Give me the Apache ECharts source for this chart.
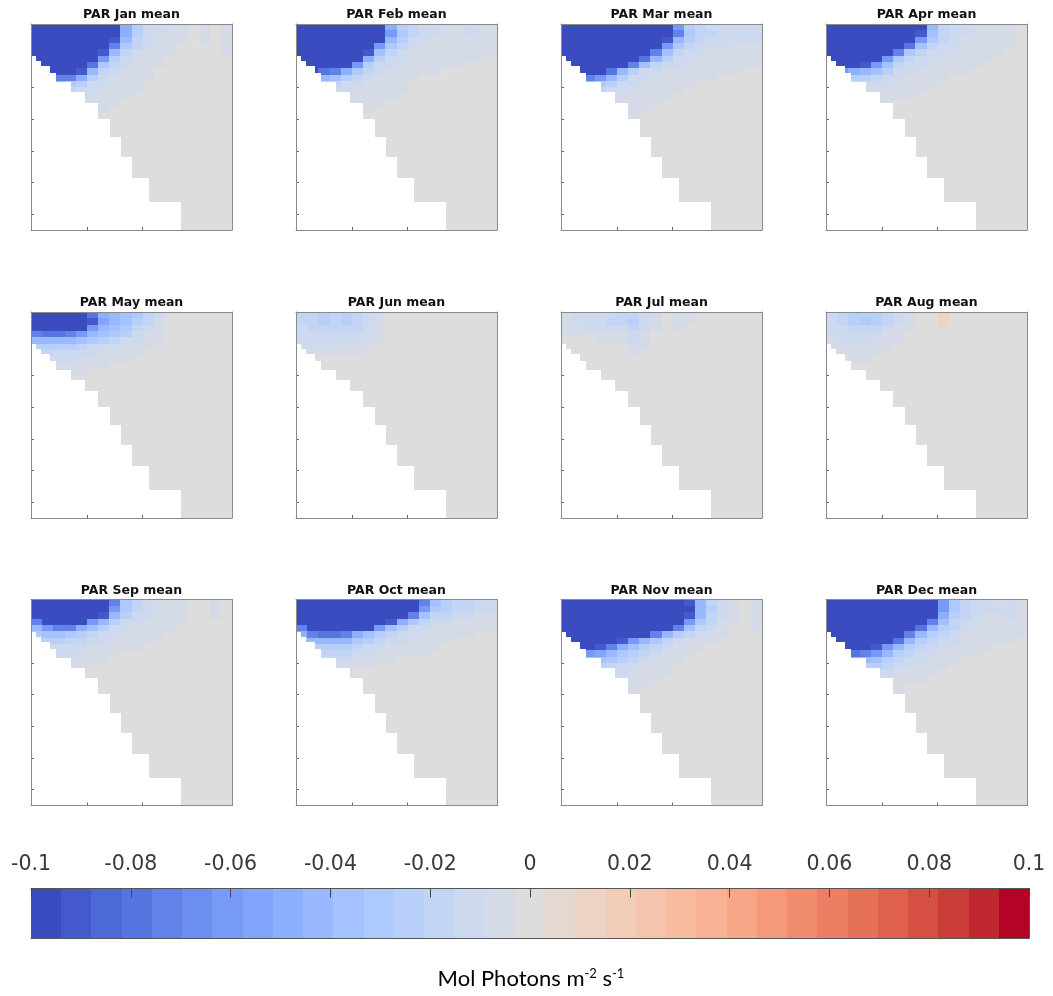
<!DOCTYPE html>
<html><head><meta charset="utf-8">
<script src="https://cdn.jsdelivr.net/npm/echarts@6/dist/echarts.min.js"></script>
<style>html,body{margin:0;padding:0;background:#fff}#chart{width:1053px;height:996px}</style>
</head><body><div id="chart"></div>
<script>
// ---------------- data ----------------
const months = ['Jan','Feb','Mar','Apr','May','Jun','Jul','Aug','Sep','Oct','Nov','Dec'];
// section grid: distance (km) column edges and depth (m) row edges
const distEdges = [0,2,4,6,8,10,12,14,16,18,20,22,24,26,28,30,32,34,36];
const depthEdges = [0,10,20,30,40,50,60,70,80,90,100,110,120,130,140,150,160,325];
// bathymetry (sea floor depth, m) along the section
const bathyEdges = [0,0.9,1.83,3.33,4.55,7.09,9.69,11.93,14.06,16.05,18.05,21.08,26.78,36];
const bathyDepth = [51,59,67,78,92,108,124.5,149.5,178.5,210,243,281,325];

const parJan = [
[-.12,-.12,-.12,-.12,-.12,-.12,-.12,-.12,-.05,-.025,-.015,-.01,-.007,-.004,0,-.004,0,-.004],
[-.12,-.12,-.12,-.12,-.12,-.12,-.12,-.12,-.05,-.025,-.015,-.01,-.007,-.004,0,-.004,0,-.004],
[-.12,-.12,-.12,-.12,-.12,-.12,-.12,-.09,-.04,-.02,-.012,-.008,-.006,-.004,0,-.004,0,-.004],
[-.12,-.12,-.12,-.12,-.12,-.12,-.12,-.07,-.03,-.018,-.01,-.007,-.005,0,0,0,0,-.004],
[-.12,-.12,-.12,-.12,-.12,-.12,-.09,-.04,-.02,-.012,-.008,-.006,-.004,0,0,0,0,-.004],
[-.12,-.12,-.12,-.12,-.12,-.12,-.06,-.025,-.014,-.009,-.007,-.005,0,0,0,0,0,0],
[-.12,-.12,-.12,-.12,-.12,-.08,-.03,-.016,-.01,-.007,-.005,-.004,0,0,0,0,0,0],
[-.12,-.12,-.12,-.12,-.09,-.04,-.02,-.012,-.008,-.006,-.004,0,0,0,0,0,0,0],
[-.1,-.1,-.07,-.07,-.05,-.025,-.014,-.009,-.007,-.005,-.004,0,0,0,0,0,0,0],
[-.05,-.05,-.04,-.03,-.025,-.015,-.01,-.007,-.005,-.004,0,0,0,0,0,0,0,0],
[-.02,-.02,-.02,-.018,-.015,-.01,-.008,-.006,-.005,-.004,0,0,0,0,0,0,0,0],
[-.01,-.01,-.01,-.01,-.01,-.008,-.006,-.005,-.004,0,0,0,0,0,0,0,0,0],
[-.006,-.006,-.006,-.006,-.006,-.006,-.005,-.004,0,0,0,0,0,0,0,0,0,0],
[-.004,-.004,-.004,-.004,-.004,-.004,-.004,0,0,0,0,0,0,0,0,0,0,0],
[0,0,0,0,0,0,0,0,0,0,0,0,0,0,0,0,0,0],
[0,0,0,0,0,0,0,0,0,0,0,0,0,0,0,0,0,0],
[0,0,0,0,0,0,0,0,0,0,0,0,0,0,0,0,0,0]];

const parFeb = [
[-.12,-.12,-.12,-.12,-.12,-.12,-.12,-.12,-.05,-.025,-.016,-.012,-.01,-.009,-.008,-.01,-.009,-.007],
[-.12,-.12,-.12,-.12,-.12,-.12,-.12,-.12,-.06,-.03,-.017,-.012,-.01,-.009,-.008,-.01,-.009,-.007],
[-.12,-.12,-.12,-.12,-.12,-.12,-.12,-.1,-.04,-.022,-.014,-.011,-.009,-.008,-.007,-.008,-.007,-.006],
[-.12,-.12,-.12,-.12,-.12,-.12,-.12,-.06,-.03,-.018,-.012,-.009,-.008,-.007,-.006,-.006,-.006,-.005],
[-.12,-.12,-.12,-.12,-.12,-.12,-.09,-.035,-.02,-.013,-.009,-.007,-.006,-.006,-.005,-.005,-.005,-.004],
[-.12,-.12,-.12,-.12,-.12,-.1,-.05,-.022,-.014,-.01,-.008,-.006,-.005,-.005,-.004,-.004,-.004,0],
[-.12,-.12,-.12,-.12,-.12,-.06,-.025,-.015,-.01,-.008,-.006,-.005,-.005,-.004,-.004,0,0,0],
[-.12,-.12,-.08,-.07,-.05,-.03,-.016,-.01,-.008,-.006,-.005,-.004,-.004,0,0,0,0,0],
[-.05,-.05,-.04,-.035,-.025,-.016,-.01,-.007,-.006,-.005,-.004,0,0,0,0,0,0,0],
[-.02,-.02,-.02,-.02,-.015,-.01,-.007,-.006,-.005,-.004,0,0,0,0,0,0,0,0],
[-.012,-.012,-.012,-.012,-.01,-.008,-.006,-.005,-.004,-.004,0,0,0,0,0,0,0,0],
[-.007,-.007,-.007,-.007,-.007,-.006,-.005,-.004,-.004,0,0,0,0,0,0,0,0,0],
[-.005,-.005,-.005,-.005,-.005,-.005,-.004,-.004,0,0,0,0,0,0,0,0,0,0],
[0,0,0,0,0,-.004,-.004,0,0,0,0,0,0,0,0,0,0,0],
[0,0,0,0,0,0,0,0,0,0,0,0,0,0,0,0,0,0],
[0,0,0,0,0,0,0,0,0,0,0,0,0,0,0,0,0,0],
[0,0,0,0,0,0,0,0,0,0,0,0,0,0,0,0,0,0]];

const parMar = [
[-.12,-.12,-.12,-.12,-.12,-.12,-.12,-.12,-.12,-.12,-.06,-.025,-.018,-.015,-.013,-.013,-.013,-.012],
[-.12,-.12,-.12,-.12,-.12,-.12,-.12,-.12,-.12,-.12,-.07,-.03,-.02,-.016,-.014,-.014,-.014,-.013],
[-.12,-.12,-.12,-.12,-.12,-.12,-.12,-.12,-.12,-.09,-.04,-.022,-.016,-.014,-.012,-.012,-.012,-.011],
[-.12,-.12,-.12,-.12,-.12,-.12,-.12,-.12,-.12,-.06,-.03,-.018,-.013,-.011,-.01,-.009,-.009,-.009],
[-.12,-.12,-.12,-.12,-.12,-.12,-.12,-.12,-.07,-.035,-.02,-.014,-.01,-.009,-.008,-.007,-.007,-.007],
[-.12,-.12,-.12,-.12,-.12,-.12,-.12,-.08,-.04,-.022,-.015,-.011,-.008,-.007,-.006,-.006,-.006,-.006],
[-.12,-.12,-.12,-.12,-.12,-.12,-.07,-.035,-.02,-.014,-.01,-.008,-.007,-.006,-.005,-.005,-.005,-.004],
[-.12,-.12,-.12,-.12,-.08,-.04,-.025,-.015,-.011,-.009,-.007,-.006,-.005,-.005,-.004,-.004,0,0],
[-.1,-.1,-.07,-.06,-.04,-.025,-.015,-.011,-.009,-.007,-.006,-.005,-.004,-.004,0,0,0,0],
[-.04,-.04,-.035,-.03,-.022,-.015,-.011,-.008,-.007,-.005,-.005,-.004,0,0,0,0,0,0],
[-.02,-.02,-.02,-.018,-.014,-.01,-.008,-.006,-.005,-.004,-.004,0,0,0,0,0,0,0],
[-.01,-.01,-.01,-.01,-.009,-.008,-.006,-.005,-.004,-.004,0,0,0,0,0,0,0,0],
[-.006,-.006,-.006,-.006,-.006,-.006,-.005,-.004,-.004,0,0,0,0,0,0,0,0,0],
[-.004,-.004,-.004,-.004,-.004,-.004,-.004,-.004,0,0,0,0,0,0,0,0,0,0],
[0,0,0,0,0,-.004,-.004,0,0,0,0,0,0,0,0,0,0,0],
[0,0,0,0,0,0,0,0,0,0,0,0,0,0,0,0,0,0],
[0,0,0,0,0,0,0,0,0,0,0,0,0,0,0,0,0,0]];

const parApr = [
[-.12,-.12,-.12,-.12,-.12,-.12,-.12,-.12,-.1,-.04,-.02,-.014,-.011,-.009,-.008,-.007,-.005,-.003],
[-.12,-.12,-.12,-.12,-.12,-.12,-.12,-.12,-.09,-.035,-.018,-.013,-.01,-.008,-.007,-.006,-.005,-.003],
[-.12,-.12,-.12,-.12,-.12,-.12,-.12,-.12,-.06,-.028,-.016,-.011,-.009,-.007,-.006,-.005,-.004,0],
[-.12,-.12,-.12,-.12,-.12,-.12,-.12,-.08,-.035,-.02,-.013,-.01,-.008,-.006,-.005,-.004,-.004,0],
[-.12,-.12,-.12,-.12,-.12,-.12,-.07,-.03,-.02,-.014,-.01,-.008,-.006,-.005,-.004,-.004,0,0],
[-.12,-.12,-.12,-.12,-.12,-.06,-.03,-.018,-.013,-.01,-.008,-.006,-.005,-.004,-.004,0,0,0],
[-.12,-.12,-.12,-.09,-.06,-.035,-.02,-.013,-.01,-.008,-.006,-.005,-.004,-.004,0,0,0,0],
[-.06,-.06,-.05,-.045,-.035,-.022,-.014,-.01,-.008,-.006,-.005,-.004,-.004,0,0,0,0,0],
[-.025,-.025,-.025,-.025,-.02,-.014,-.01,-.008,-.006,-.005,-.004,0,0,0,0,0,0,0],
[-.014,-.014,-.014,-.014,-.012,-.01,-.007,-.006,-.005,-.004,0,0,0,0,0,0,0,0],
[-.009,-.009,-.009,-.009,-.008,-.007,-.005,-.004,-.004,0,0,0,0,0,0,0,0,0],
[-.005,-.005,-.005,-.005,-.005,-.005,-.004,-.004,0,0,0,0,0,0,0,0,0,0],
[0,0,0,0,-.004,-.004,0,0,0,0,0,0,0,0,0,0,0,0],
[0,0,0,0,0,0,0,0,0,0,0,0,0,0,0,0,0,0],
[0,0,0,0,0,0,0,0,0,0,0,0,0,0,0,0,0,0],
[0,0,0,0,0,0,0,0,0,0,0,0,0,0,0,0,0,0],
[0,0,0,0,0,0,0,0,0,0,0,0,0,0,0,0,0,0]];

const parMay = [
[-.12,-.12,-.12,-.12,-.12,-.08,-.05,-.04,-.035,-.028,-.018,-.01,0,0,0,0,0,0],
[-.12,-.12,-.12,-.12,-.12,-.09,-.055,-.04,-.035,-.025,-.016,-.008,0,0,0,0,0,0],
[-.12,-.12,-.12,-.12,-.1,-.06,-.045,-.035,-.028,-.02,-.012,-.006,0,0,0,0,0,0],
[-.07,-.08,-.08,-.07,-.06,-.045,-.035,-.028,-.022,-.015,-.009,-.005,0,0,0,0,0,0],
[-.045,-.045,-.045,-.04,-.035,-.028,-.022,-.018,-.014,-.01,-.006,-.004,0,0,0,0,0,0],
[-.025,-.025,-.025,-.022,-.018,-.015,-.012,-.01,-.008,-.006,-.004,0,0,0,0,0,0,0],
[-.015,-.016,-.015,-.014,-.012,-.01,-.008,-.007,-.005,-.004,0,0,0,0,0,0,0,0],
[-.011,-.011,-.011,-.01,-.009,-.007,-.006,-.005,-.004,0,0,0,0,0,0,0,0,0],
[-.008,-.008,-.008,-.008,-.007,-.005,-.004,0,0,0,0,0,0,0,0,0,0,0],
[-.005,-.005,-.005,-.005,-.004,-.003,0,0,0,0,0,0,0,0,0,0,0,0],
[0,0,0,0,0,0,0,0,0,0,0,0,0,0,0,0,0,0],
[0,0,0,0,0,0,0,0,0,0,0,0,0,0,0,0,0,0],
[0,0,0,0,0,0,0,0,0,0,0,0,0,0,0,0,0,0],
[0,0,0,0,0,0,0,0,0,0,0,0,0,0,0,0,0,0],
[0,0,0,0,0,0,0,0,0,0,0,0,0,0,0,0,0,0],
[0,0,0,0,0,0,0,0,0,0,0,0,0,0,0,0,0,0],
[0,0,0,0,0,0,0,0,0,0,0,0,0,0,0,0,0,0]];

const parJun = [
[-.016,-.018,-.022,-.018,-.022,-.018,-.013,-.008,0,0,0,0,0,0,0,0,0,0],
[-.016,-.02,-.024,-.02,-.024,-.019,-.013,-.008,0,0,0,0,0,0,0,0,0,0],
[-.015,-.018,-.02,-.018,-.02,-.016,-.011,-.006,0,0,0,0,0,0,0,0,0,0],
[-.013,-.015,-.015,-.014,-.014,-.013,-.01,-.005,0,0,0,0,0,0,0,0,0,0],
[-.011,-.012,-.012,-.011,-.011,-.01,-.008,-.004,0,0,0,0,0,0,0,0,0,0],
[-.009,-.01,-.01,-.009,-.009,-.008,-.005,0,0,0,0,0,0,0,0,0,0,0],
[-.008,-.008,-.007,-.006,-.005,-.004,0,0,0,0,0,0,0,0,0,0,0,0],
[0,0,0,0,0,0,0,0,0,0,0,0,0,0,0,0,0,0],
[0,0,0,0,0,0,0,0,0,0,0,0,0,0,0,0,0,0],
[0,0,0,0,0,0,0,0,0,0,0,0,0,0,0,0,0,0],
[0,0,0,0,0,0,0,0,0,0,0,0,0,0,0,0,0,0],
[0,0,0,0,0,0,0,0,0,0,0,0,0,0,0,0,0,0],
[0,0,0,0,0,0,0,0,0,0,0,0,0,0,0,0,0,0],
[0,0,0,0,0,0,0,0,0,0,0,0,0,0,0,0,0,0],
[0,0,0,0,0,0,0,0,0,0,0,0,0,0,0,0,0,0],
[0,0,0,0,0,0,0,0,0,0,0,0,0,0,0,0,0,0],
[0,0,0,0,0,0,0,0,0,0,0,0,0,0,0,0,0,0]];

const parJul = [
[-.008,-.01,-.012,-.014,-.015,-.016,-.02,-.014,-.007,0,-.005,-.004,0,0,0,0,0,0],
[-.008,-.01,-.013,-.015,-.016,-.017,-.022,-.015,-.007,0,-.005,-.004,0,0,0,0,0,0],
[-.007,-.008,-.01,-.011,-.012,-.013,-.016,-.01,-.004,0,-.004,0,0,0,0,0,0,0],
[-.004,-.005,-.006,-.007,-.008,-.009,-.012,-.007,0,0,0,0,0,0,0,0,0,0],
[0,0,0,-.004,-.004,-.005,-.01,-.005,0,0,0,0,0,0,0,0,0,0],
[0,0,0,0,0,0,-.006,-.004,0,0,0,0,0,0,0,0,0,0],
[0,0,0,0,0,0,-.004,0,0,0,0,0,0,0,0,0,0,0],
[0,0,0,0,0,0,0,0,0,0,0,0,0,0,0,0,0,0],
[0,0,0,0,0,0,0,0,0,0,0,0,0,0,0,0,0,0],
[0,0,0,0,0,0,0,0,0,0,0,0,0,0,0,0,0,0],
[0,0,0,0,0,0,0,0,0,0,0,0,0,0,0,0,0,0],
[0,0,0,0,0,0,0,0,0,0,0,0,0,0,0,0,0,0],
[0,0,0,0,0,0,0,0,0,0,0,0,0,0,0,0,0,0],
[0,0,0,0,0,0,0,0,0,0,0,0,0,0,0,0,0,0],
[0,0,0,0,0,0,0,0,0,0,0,0,0,0,0,0,0,0],
[0,0,0,0,0,0,0,0,0,0,0,0,0,0,0,0,0,0],
[0,0,0,0,0,0,0,0,0,0,0,0,0,0,0,0,0,0]];

const parAug = [
[-.012,-.016,-.022,-.026,-.022,-.016,-.01,-.006,0,0,.01,0,0,0,0,0,0,0],
[-.013,-.018,-.025,-.03,-.025,-.017,-.01,-.006,0,0,.01,0,0,0,0,0,0,0],
[-.012,-.015,-.018,-.02,-.018,-.013,-.008,-.004,0,0,.006,0,0,0,0,0,0,0],
[-.01,-.012,-.013,-.014,-.012,-.009,-.006,0,0,0,0,0,0,0,0,0,0,0],
[-.009,-.01,-.011,-.011,-.009,-.007,-.004,0,0,0,0,0,0,0,0,0,0,0],
[-.008,-.009,-.009,-.008,-.007,-.005,0,0,0,0,0,0,0,0,0,0,0,0],
[-.006,-.006,-.006,-.006,-.004,0,0,0,0,0,0,0,0,0,0,0,0,0],
[0,0,-.004,-.004,0,0,0,0,0,0,0,0,0,0,0,0,0,0],
[0,0,0,0,0,0,0,0,0,0,0,0,0,0,0,0,0,0],
[0,0,0,0,0,0,0,0,0,0,0,0,0,0,0,0,0,0],
[0,0,0,0,0,0,0,0,0,0,0,0,0,0,0,0,0,0],
[0,0,0,0,0,0,0,0,0,0,0,0,0,0,0,0,0,0],
[0,0,0,0,0,0,0,0,0,0,0,0,0,0,0,0,0,0],
[0,0,0,0,0,0,0,0,0,0,0,0,0,0,0,0,0,0],
[0,0,0,0,0,0,0,0,0,0,0,0,0,0,0,0,0,0],
[0,0,0,0,0,0,0,0,0,0,0,0,0,0,0,0,0,0],
[0,0,0,0,0,0,0,0,0,0,0,0,0,0,0,0,0,0]];

const parSep = [
[-.12,-.12,-.12,-.12,-.12,-.12,-.12,-.07,-.03,-.018,-.012,-.009,-.007,-.005,0,0,-.005,0],
[-.12,-.12,-.12,-.12,-.12,-.12,-.12,-.06,-.028,-.016,-.011,-.008,-.006,-.004,0,0,-.005,0],
[-.12,-.12,-.12,-.12,-.12,-.12,-.09,-.04,-.022,-.014,-.01,-.007,-.005,-.004,0,0,-.004,0],
[-.07,-.12,-.12,-.12,-.12,-.06,-.04,-.022,-.015,-.011,-.008,-.006,-.005,-.004,0,0,0,0],
[-.045,-.06,-.07,-.07,-.05,-.035,-.022,-.015,-.011,-.009,-.007,-.005,-.004,0,0,0,0,0],
[-.03,-.035,-.035,-.032,-.027,-.02,-.015,-.011,-.008,-.007,-.005,-.004,0,0,0,0,0,0],
[-.022,-.022,-.022,-.02,-.017,-.013,-.01,-.008,-.006,-.005,-.004,0,0,0,0,0,0,0],
[-.015,-.015,-.015,-.014,-.012,-.009,-.007,-.006,-.005,-.004,0,0,0,0,0,0,0,0],
[-.01,-.01,-.01,-.01,-.008,-.007,-.005,-.004,0,0,0,0,0,0,0,0,0,0],
[-.007,-.007,-.007,-.007,-.006,-.005,-.004,0,0,0,0,0,0,0,0,0,0,0],
[0,0,0,-.004,-.004,0,0,0,0,0,0,0,0,0,0,0,0,0],
[0,0,0,0,0,0,0,0,0,0,0,0,0,0,0,0,0,0],
[0,0,0,0,0,0,0,0,0,0,0,0,0,0,0,0,0,0],
[0,0,0,0,0,0,0,0,0,0,0,0,0,0,0,0,0,0],
[0,0,0,0,0,0,0,0,0,0,0,0,0,0,0,0,0,0],
[0,0,0,0,0,0,0,0,0,0,0,0,0,0,0,0,0,0],
[0,0,0,0,0,0,0,0,0,0,0,0,0,0,0,0,0,0]];

const parOct = [
[-.12,-.12,-.12,-.12,-.12,-.12,-.12,-.12,-.12,-.12,-.12,-.07,-.035,-.025,-.02,-.018,-.015,-.011],
[-.12,-.12,-.12,-.12,-.12,-.12,-.12,-.12,-.12,-.12,-.1,-.06,-.03,-.022,-.018,-.016,-.013,-.01],
[-.12,-.12,-.12,-.12,-.12,-.12,-.12,-.12,-.12,-.12,-.07,-.035,-.02,-.016,-.013,-.011,-.009,-.008],
[-.12,-.12,-.12,-.12,-.12,-.12,-.12,-.12,-.09,-.05,-.03,-.02,-.014,-.011,-.009,-.008,-.007,-.006],
[-.07,-.12,-.12,-.12,-.12,-.12,-.1,-.06,-.035,-.022,-.015,-.011,-.009,-.007,-.006,-.005,-.005,-.004],
[-.05,-.07,-.08,-.08,-.07,-.05,-.035,-.025,-.018,-.013,-.01,-.008,-.006,-.005,-.004,-.004,0,0],
[-.035,-.04,-.045,-.045,-.04,-.03,-.022,-.016,-.012,-.01,-.008,-.006,-.005,-.004,0,0,0,0],
[-.025,-.025,-.027,-.027,-.024,-.019,-.015,-.012,-.009,-.007,-.006,-.005,-.004,0,0,0,0,0],
[-.018,-.018,-.018,-.018,-.016,-.013,-.01,-.008,-.007,-.006,-.005,-.004,0,0,0,0,0,0],
[-.012,-.012,-.012,-.012,-.01,-.008,-.006,-.005,-.004,0,0,0,0,0,0,0,0,0],
[-.008,-.008,-.008,-.008,-.007,-.006,-.004,0,0,0,0,0,0,0,0,0,0,0],
[0,0,0,0,-.004,0,0,0,0,0,0,0,0,0,0,0,0,0],
[0,0,0,0,0,0,0,0,0,0,0,0,0,0,0,0,0,0],
[0,0,0,0,0,0,0,0,0,0,0,0,0,0,0,0,0,0],
[0,0,0,0,0,0,0,0,0,0,0,0,0,0,0,0,0,0],
[0,0,0,0,0,0,0,0,0,0,0,0,0,0,0,0,0,0],
[0,0,0,0,0,0,0,0,0,0,0,0,0,0,0,0,0,0]];

const parNov = [
[-.12,-.12,-.12,-.12,-.12,-.12,-.12,-.12,-.12,-.12,-.12,-.09,-.04,-.02,-.012,-.006,0,-.005],
[-.12,-.12,-.12,-.12,-.12,-.12,-.12,-.12,-.12,-.12,-.12,-.1,-.045,-.022,-.012,-.006,0,-.005],
[-.12,-.12,-.12,-.12,-.12,-.12,-.12,-.12,-.12,-.12,-.12,-.09,-.04,-.02,-.011,-.005,0,-.005],
[-.12,-.12,-.12,-.12,-.12,-.12,-.12,-.12,-.12,-.12,-.12,-.06,-.03,-.016,-.009,-.004,0,-.004],
[-.12,-.12,-.12,-.12,-.12,-.12,-.12,-.12,-.12,-.1,-.07,-.035,-.02,-.012,-.006,0,0,-.004],
[-.12,-.12,-.12,-.12,-.12,-.12,-.12,-.1,-.07,-.04,-.025,-.016,-.011,-.008,-.004,0,0,0],
[-.12,-.12,-.12,-.12,-.12,-.09,-.06,-.04,-.028,-.018,-.013,-.009,-.006,-.004,0,0,0,0],
[-.12,-.12,-.1,-.09,-.07,-.05,-.035,-.025,-.018,-.013,-.009,-.006,-.004,0,0,0,0,0],
[-.07,-.07,-.06,-.055,-.045,-.032,-.024,-.017,-.012,-.009,-.006,-.004,0,0,0,0,0,0],
[-.035,-.035,-.035,-.035,-.03,-.022,-.016,-.012,-.009,-.006,-.004,0,0,0,0,0,0,0],
[-.018,-.018,-.018,-.018,-.018,-.014,-.011,-.008,-.006,-.004,0,0,0,0,0,0,0,0],
[-.012,-.012,-.012,-.012,-.012,-.01,-.008,-.006,-.004,-.004,0,0,0,0,0,0,0,0],
[-.008,-.008,-.008,-.008,-.008,-.007,-.006,-.005,-.004,0,0,0,0,0,0,0,0,0],
[0,0,0,0,0,-.005,-.004,-.004,0,0,0,0,0,0,0,0,0,0],
[0,0,0,0,0,-.004,-.004,0,0,0,0,0,0,0,0,0,0,0],
[0,0,0,0,0,0,0,0,0,0,0,0,0,0,0,0,0,0],
[0,0,0,0,0,0,0,0,0,0,0,0,0,0,0,0,0,0]];

const parDec = [
[-.12,-.12,-.12,-.12,-.12,-.12,-.12,-.12,-.12,-.1,-.06,-.03,-.018,-.013,-.01,-.009,-.01,-.008],
[-.12,-.12,-.12,-.12,-.12,-.12,-.12,-.12,-.12,-.1,-.06,-.03,-.018,-.013,-.01,-.01,-.012,-.009],
[-.12,-.12,-.12,-.12,-.12,-.12,-.12,-.12,-.12,-.1,-.05,-.026,-.016,-.012,-.009,-.009,-.01,-.008],
[-.12,-.12,-.12,-.12,-.12,-.12,-.12,-.12,-.12,-.07,-.035,-.02,-.013,-.01,-.008,-.007,-.007,-.007],
[-.12,-.12,-.12,-.12,-.12,-.12,-.12,-.12,-.08,-.045,-.025,-.016,-.011,-.008,-.007,-.006,-.006,-.006],
[-.12,-.12,-.12,-.12,-.12,-.12,-.12,-.07,-.04,-.025,-.017,-.012,-.009,-.007,-.006,-.005,-.005,-.005],
[-.12,-.12,-.12,-.12,-.12,-.12,-.08,-.045,-.027,-.018,-.013,-.01,-.008,-.006,-.005,-.004,-.004,0],
[-.12,-.12,-.12,-.12,-.09,-.06,-.04,-.026,-.018,-.013,-.01,-.008,-.006,-.005,-.004,0,0,0],
[-.08,-.08,-.08,-.075,-.06,-.04,-.027,-.019,-.013,-.01,-.008,-.006,-.005,-.004,0,0,0,0],
[-.045,-.045,-.045,-.045,-.035,-.026,-.019,-.014,-.01,-.008,-.006,-.004,0,0,0,0,0,0],
[-.022,-.022,-.022,-.022,-.022,-.017,-.013,-.01,-.008,-.006,-.004,0,0,0,0,0,0,0],
[-.014,-.014,-.014,-.014,-.014,-.012,-.009,-.007,-.006,-.004,0,0,0,0,0,0,0,0],
[-.009,-.009,-.009,-.009,-.009,-.008,-.007,-.005,-.004,0,0,0,0,0,0,0,0,0],
[0,0,0,0,0,-.005,-.005,0,0,0,0,0,0,0,0,0,0,0],
[0,0,0,0,0,-.004,-.004,0,0,0,0,0,0,0,0,0,0,0],
[0,0,0,0,0,0,0,0,0,0,0,0,0,0,0,0,0,0],
[0,0,0,0,0,0,0,0,0,0,0,0,0,0,0,0,0,0]];

const monthFields = [parJan,parFeb,parMar,parApr,parMay,parJun,parJul,parAug,parSep,parOct,parNov,parDec];

// colour scale
const cbarMin = -0.1, cbarMax = 0.1;
const cmapColors = ['#3b4cc0','#445acc','#4d68d7','#5775e1','#6282ea','#6c8ef1','#779af7','#82a5fb','#8db0fe','#98b9ff','#a3c2ff','#aec9fd','#b8d0f9','#c2d5f4','#ccd9ee','#d5dbe6','#dddddd','#e5d8d1','#ecd3c5','#f1ccb9','#f5c4ad','#f7bba0','#f7b194','#f7a687','#f49a7b','#f18d6f','#ec7f63','#e57058','#de604d','#d55042','#cb3e38','#c0282f','#b40426'];

// ---------------- layout ----------------
const panelLeft = [31, 296, 561, 826];
const panelTop = [24, 312, 599.5];
const panelW = 201, panelH = 206;
const boxColor = '#8a8a8a';

function colorFor(v) {
  const n = cmapColors.length;
  let k = Math.floor((v - cbarMin) / (cbarMax - cbarMin) * n + 1e-9);
  if (k < 0) k = 0; if (k > n - 1) k = n - 1;
  return cmapColors[k];
}

function cellsFor(field) {
  const out = [];
  for (let i = 0; i < depthEdges.length - 1; i++)
    for (let j = 0; j < distEdges.length - 1; j++)
      out.push([distEdges[j], distEdges[j + 1], depthEdges[i], depthEdges[i + 1], field[i][j]]);
  return out;
}

function renderField(params, api) {
  const x0 = api.value(0), x1 = api.value(1), y0 = api.value(2), y1 = api.value(3), v = api.value(4);
  const fill = colorFor(v);
  const children = [];
  for (let k = 0; k < bathyDepth.length; k++) {
    const a = Math.max(x0, bathyEdges[k]), b = Math.min(x1, bathyEdges[k + 1]);
    if (b <= a) continue;
    const bottom = Math.min(y1, bathyDepth[k]);
    if (bottom <= y0) continue;
    const p0 = api.coord([a, y0]), p1 = api.coord([b, bottom]);
    const l = Math.round(Math.min(p0[0], p1[0])), r = Math.round(Math.max(p0[0], p1[0]));
    const t = Math.round(Math.min(p0[1], p1[1])), btm = Math.round(Math.max(p0[1], p1[1]));
    if (r > l && btm > t) children.push({ type: 'rect', shape: { x: l, y: t, width: r - l, height: btm - t }, style: { fill: fill } });
  }
  return { type: 'group', children: children };
}

function renderCbar(params, api) {
  const p0 = api.coord([api.value(0), 1]), p1 = api.coord([api.value(1), 0]);
  const l = Math.round(p0[0]), r = Math.round(p1[0]);
  const t = Math.round(p0[1]), b = Math.round(p1[1]);
  return { type: 'rect', shape: { x: l, y: t, width: r - l, height: b - t }, style: { fill: cmapColors[api.value(2)] } };
}

const grid = [], xAxis = [], yAxis = [], series = [], title = [];
const hidden = { axisLabel: { show: false }, splitLine: { show: false } };

months.forEach(function (m, p) {
  const c = p % 4, r = Math.floor(p / 4);
  grid.push({ left: panelLeft[c], top: panelTop[r], width: panelW, height: panelH });
  const xi = xAxis.length, yi = yAxis.length;
  // tick axes (under the data, like the original)
  xAxis.push(Object.assign({ gridIndex: p, type: 'value', min: 0, max: 36, interval: 10, position: 'bottom', z: 0,
    axisLine: { show: false, onZero: false }, axisTick: { show: true, inside: true, length: 3, lineStyle: { color: '#666' } } }, hidden));
  yAxis.push(Object.assign({ gridIndex: p, type: 'value', min: 0, max: 325, interval: 50, inverse: true, position: 'left', z: 0,
    axisLine: { show: false, onZero: false }, axisTick: { show: true, inside: true, length: 3, lineStyle: { color: '#666' } } }, hidden));
  // box lines (on top)
  ['bottom', 'top'].forEach(function (pos) {
    xAxis.push(Object.assign({ gridIndex: p, type: 'value', min: 0, max: 36, position: pos, z: 10,
      axisLine: { show: true, onZero: false, lineStyle: { color: boxColor, width: 1 } }, axisTick: { show: false } }, hidden));
  });
  ['left', 'right'].forEach(function (pos) {
    yAxis.push(Object.assign({ gridIndex: p, type: 'value', min: 0, max: 325, inverse: true, position: pos, z: 10,
      axisLine: { show: true, onZero: false, lineStyle: { color: boxColor, width: 1 } }, axisTick: { show: false } }, hidden));
  });
  series.push({ type: 'custom', name: 'PAR ' + m + ' mean', xAxisIndex: xi, yAxisIndex: yi, clip: true,
    encode: { x: [0, 1], y: [2, 3] }, renderItem: renderField, data: cellsFor(monthFields[p]) });
  title.push({ text: 'PAR ' + m + ' mean', left: panelLeft[c] + panelW / 2, top: panelTop[r] - 15.5, textAlign: 'center', padding: 0,
    textStyle: { fontFamily: 'DejaVu Sans', fontWeight: 'bold', fontSize: 12.5, color: '#111' } });
});

// colour bar
const cg = grid.length;
grid.push({ left: 31, top: 888.5, width: 998, height: 49.5 });
const cxi = xAxis.length, cyi = yAxis.length;
xAxis.push({ gridIndex: cg, type: 'value', min: cbarMin, max: cbarMax, interval: 0.02, position: 'top', z: 10,
  axisLine: { show: true, onZero: false, lineStyle: { color: '#555', width: 1 } },
  axisTick: { show: true, inside: true, length: 9, lineStyle: { color: '#444', width: 1 } },
  axisLabel: { show: true, margin: 13, fontFamily: 'DejaVu Sans', fontSize: 20.5, color: '#3a3a3a', showMinLabel: true, showMaxLabel: true },
  splitLine: { show: false } });
xAxis.push(Object.assign({ gridIndex: cg, type: 'value', min: cbarMin, max: cbarMax, position: 'bottom', z: 10,
  axisLine: { show: true, onZero: false, lineStyle: { color: '#555', width: 1 } }, axisTick: { show: false } }, hidden));
['left', 'right'].forEach(function (pos) {
  yAxis.push(Object.assign({ gridIndex: cg, type: 'value', min: 0, max: 1, position: pos, z: 10,
    axisLine: { show: true, onZero: false, lineStyle: { color: '#555', width: 1 } }, axisTick: { show: false } }, hidden));
});
const cbarData = cmapColors.map(function (col, k) {
  const step = (cbarMax - cbarMin) / cmapColors.length;
  return [cbarMin + k * step, cbarMin + (k + 1) * step, k];
});
series.push({ type: 'custom', xAxisIndex: cxi, yAxisIndex: cyi, clip: true, encode: { x: [0, 1] }, renderItem: renderCbar, data: cbarData });

title.push({ text: '{a|Mol Photons m}{s|-2}{a| s}{s|-1}', left: 531, top: 964, textAlign: 'center', padding: 0,
  textStyle: { fontWeight: 'normal', rich: {
    a: { fontFamily: 'Lato', fontWeight: 'normal', fontSize: 22, color: '#000', lineHeight: 26, verticalAlign: 'bottom' },
    s: { fontFamily: 'Lato', fontWeight: 'normal', fontSize: 13, color: '#000', lineHeight: 14, verticalAlign: 'top', padding: [3, 0, 0, 0] } } } });

const chart = echarts.init(document.getElementById('chart'), null, { renderer: 'canvas' });
chart.setOption({ animation: false, backgroundColor: '#fff', title: title, grid: grid, xAxis: xAxis, yAxis: yAxis, series: series });
</script></body></html>
